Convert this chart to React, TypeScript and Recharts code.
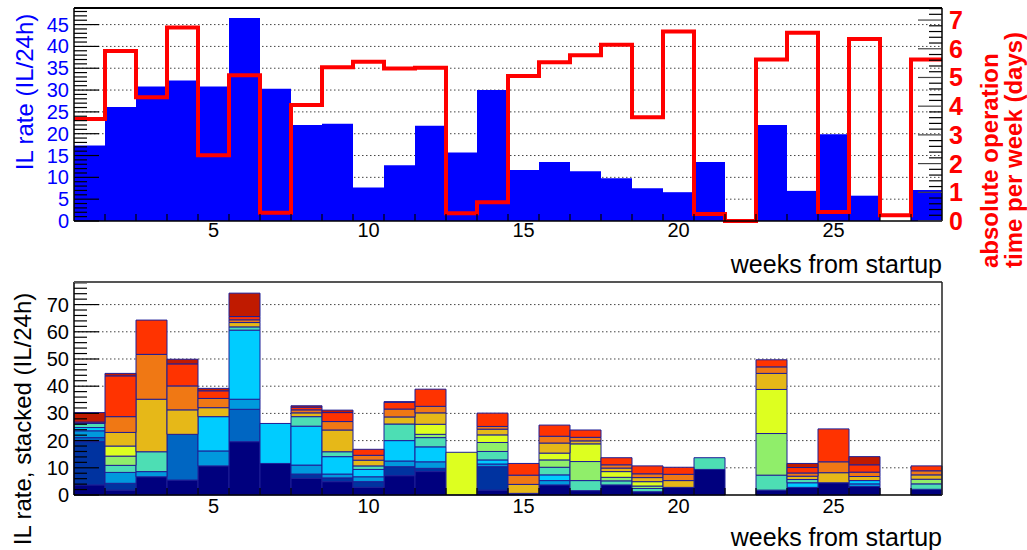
import React from 'react';
import { ComposedChart, Bar, Line, XAxis, YAxis, CartesianGrid } from 'recharts';

// weeks from startup (bin centres)
const WEEKS = [1, 2, 3, 4, 5, 6, 7, 8, 9, 10, 11, 12, 13, 14, 15, 16, 17, 18, 19, 20, 21, 22, 23, 24, 25, 26, 27, 28];

// top panel: IL rate (IL/24h) and absolute operation time per week (days)
const IL_RATE = [17.3, 26.1, 30.8, 32.2, 30.8, 46.5, 30.3, 22.0, 22.3, 7.7, 12.8, 21.8, 15.7, 30.0, 11.7, 13.5, 11.4, 9.8, 7.5, 6.6, 13.5, 0, 22.0, 6.9, 19.9, 5.8, 0, 7.1];
const OP_DAYS = [3.55, 5.92, 4.31, 6.74, 2.29, 5.08, 0.29, 4.04, 5.36, 5.55, 5.31, 5.34, 0.27, 0.65, 5.05, 5.53, 5.77, 6.14, 3.61, 6.6, 0.24, 0, 5.63, 6.56, 0.31, 6.34, 0.2, 5.63];

// bottom panel: stacked contributions, bottom layer first
const S_NAVY = [3.7, 1.8, 6.7, 5.5, 10.7, 19.6, 11.6, 6.1, 4.9, 2.8, 7.1, 8.6, 0, 1.8, 0.6, 3.7, 1.6, 3.7, 1.2, 2.8, 9.4, 0, 1.8, 2.8, 4.5, 3.1, 0, 2.1];
const S_DARKBLUE = [15.9, 2.5, 0, 0, 0, 0, 0, 1.6, 1.4, 2.1, 3.3, 1.2, 0, 8.6, 0, 0, 0, 0, 0, 0, 0, 0, 0, 0, 0, 0, 0, 0];
const S_BLUE = [1.5, 0, 0, 16.8, 0, 11.9, 0, 0, 0, 0, 0, 0, 0, 0, 0, 0, 0, 0, 0, 0, 0, 0, 0, 0, 0, 0, 0, 0];
const S_MEDBLUE = [2.5, 4.0, 1.9, 0, 5.5, 3.7, 0, 3.3, 1.4, 1.8, 2.1, 2.4, 0, 1.0, 0, 1.6, 0, 0, 0, 0, 0, 0, 0, 0, 0, 1.0, 0, 0];
const S_CYAN = [1.2, 0, 0, 0, 12.6, 25.4, 14.7, 14.3, 6.4, 2.7, 7.5, 5.5, 0, 1.5, 0, 2.1, 0, 0, 0, 0, 0, 0, 0, 1.7, 0, 1.2, 0, 0];
const S_AQUA = [1.5, 2.6, 7.3, 0, 0, 1.2, 0, 3.5, 1.8, 1.3, 6.1, 3.4, 0, 3.1, 0, 2.8, 3.7, 1.5, 1.2, 0, 4.3, 0, 5.5, 1.2, 0, 0, 0, 2.0];
const S_GREEN = [0, 3.4, 0, 0, 0, 0, 0, 0, 0, 0, 0, 1.2, 0, 3.3, 0, 2.7, 7.0, 1.3, 0.9, 0, 0, 0, 15.3, 0, 0, 0, 0, 1.7];
const S_LIME = [0, 3.7, 0, 0, 0, 0, 0, 0, 0, 0, 0, 3.7, 15.7, 2.8, 0, 2.5, 6.5, 2.1, 1.6, 0, 0, 0, 16.2, 0, 0, 0, 0, 0];
const S_GOLD = [0, 5.0, 19.3, 9.0, 3.3, 1.6, 0, 1.4, 8.0, 2.1, 2.6, 4.2, 0, 2.1, 3.3, 3.7, 1.1, 1.3, 1.5, 2.5, 0, 0, 5.9, 1.2, 3.7, 1.5, 0, 1.6];
const S_ORANGE = [0, 5.8, 16.5, 8.8, 3.4, 1.0, 0, 1.1, 3.1, 1.8, 2.9, 2.4, 0, 1.0, 3.4, 2.5, 1.3, 1.2, 1.4, 2.3, 0, 0, 2.4, 1.2, 4.0, 1.6, 0, 1.5];
const S_RED = [0.5, 15.0, 12.6, 8.1, 2.8, 1.2, 0, 1.0, 3.3, 2.2, 2.5, 6.3, 0, 4.9, 4.3, 4.1, 2.7, 2.6, 2.9, 2.6, 0, 0, 2.6, 2.0, 12.1, 2.7, 0, 1.8];
const S_DARKRED = [3.5, 0.9, 0, 1.7, 0.9, 8.6, 0, 0.5, 0.9, 0, 0.2, 0, 0, 0, 0, 0, 0, 0, 0, 0, 0, 0, 0, 1.5, 0, 3.0, 0, 0];

// axis ticks
const X_LABEL_TICKS = [5, 10, 15, 20, 25];
const TOP_LEFT_MAJOR = [0, 5, 10, 15, 20, 25, 30, 35, 40, 45];
const TOP_RIGHT_MAJOR = [0, 1, 2, 3, 4, 5, 6, 7];
const BOTTOM_MAJOR = [0, 10, 20, 30, 40, 50, 60, 70];

const TOP_LEFT_MAX = 48.8;
const TOP_RIGHT_MAX = 7.42;
const BOTTOM_MAX = 78.3;

const LAYERS = [
  { key: 's0', values: S_NAVY, color: '#00007e' },
  { key: 's1', values: S_DARKBLUE, color: '#0033a0' },
  { key: 's2', values: S_BLUE, color: '#0066c2' },
  { key: 's3', values: S_MEDBLUE, color: '#0099dd' },
  { key: 's4', values: S_CYAN, color: '#00ccff' },
  { key: 's5', values: S_AQUA, color: '#4ddeb4' },
  { key: 's6', values: S_GREEN, color: '#90ee6a' },
  { key: 's7', values: S_LIME, color: '#ddff20' },
  { key: 's8', values: S_GOLD, color: '#e6b818' },
  { key: 's9', values: S_ORANGE, color: '#f07814' },
  { key: 's10', values: S_RED, color: '#ff3300' },
  { key: 's11', values: S_DARKRED, color: '#c01a00' },
];

const FONT = '"Liberation Sans", Arial, Helvetica, sans-serif';
const BLUE = '#0000ff';
const RED = '#ff0000';

const rateRows = WEEKS.map((w, i) => ({ week: w, x: w, rate: IL_RATE[i] }));
// histogram outline: one point per bin low edge, plus the last high edge
const edgeRows = [...WEEKS.map((w, i) => ({ x: w - 0.5, days: OP_DAYS[i] })), { x: WEEKS[WEEKS.length - 1] + 0.5, days: OP_DAYS[OP_DAYS.length - 1] }];
const stackRows = WEEKS.map((w, i) => {
  const row: Record<string, number> = { week: w, x: w };
  LAYERS.forEach(l => { row[l.key] = l.values[i]; });
  return row;
});

const X_TICKS = [...WEEKS.slice(1).map(w => w - 0.5), ...X_LABEL_TICKS];
const X_DOMAIN = [WEEKS[0] - 0.5, WEEKS[WEEKS.length - 1] + 0.5];

function range(max: number, step: number): number[] {
  const out: number[] = [];
  for (let k = 0; k * step <= max + 1e-9; k++) out.push(Math.round(k * step * 100) / 100);
  return out;
}

const makeXTick = (labelDy: number) => (props: any) => {
  const { x, y, payload } = props;
  const v = payload.value;
  if (Number.isInteger(v)) {
    return (
      <text x={x} y={y + labelDy} textAnchor="middle" fontSize={20} fontFamily={FONT} fill="#000">
        {v}
      </text>
    );
  }
  return <line x1={x} x2={x} y1={y} y2={y - 7} stroke="#000" strokeWidth={1.2} />;
};

const makeLeftTick = (majors: number[], color: string) => (props: any) => {
  const { x, y, payload } = props;
  const major = majors.includes(payload.value);
  return (
    <g>
      <line x1={x} x2={x + (major ? 25 : 13)} y1={y} y2={y} stroke="#000" strokeWidth={1.2} />
      {major && (
        <text x={x - 5} y={y} textAnchor="end" dominantBaseline="central" fontSize={20} fontFamily={FONT} fill={color}>
          {payload.value}
        </text>
      )}
    </g>
  );
};

const makeRightTick = (majors: number[]) => (props: any) => {
  const { x, y, payload } = props;
  const major = majors.includes(payload.value);
  return (
    <g>
      <line x1={x} x2={x - (major ? 24 : 13)} y1={y} y2={y} stroke={major ? '#444' : '#000'} strokeWidth={1.2} />
      {major && (
        <text x={x + 7} y={y} textAnchor="start" dominantBaseline="central" fontSize={25} fontWeight="bold" fontFamily={FONT} fill={RED}>
          {payload.value}
        </text>
      )}
    </g>
  );
};

function TopPanel() {
  return (
    <ComposedChart width={1027} height={250} data={rateRows} margin={{ top: 8, right: 0, bottom: 0, left: 0 }} barCategoryGap={0} barGap={0}>
      <CartesianGrid
        xAxisId="num"
        yAxisId="rate"
        vertical={false}
        horizontalValues={TOP_LEFT_MAJOR.slice(1)}
        stroke="#444"
        strokeDasharray="1.5 2.5"
      />
      <Bar xAxisId="cat" yAxisId="rate" dataKey="rate" fill={BLUE} isAnimationActive={false} />
      <Line
        xAxisId="num"
        yAxisId="days"
        data={edgeRows}
        dataKey="days"
        type="stepAfter"
        stroke={RED}
        strokeWidth={4}
        dot={false}
        isAnimationActive={false}
      />
      <XAxis
        xAxisId="num"
        dataKey="x"
        type="number"
        domain={X_DOMAIN}
        allowDataOverflow
        ticks={X_TICKS}
        interval={0}
        height={29}
        tickSize={0}
        tickMargin={0}
        tick={makeXTick(16)}
        axisLine={{ stroke: '#000', strokeWidth: 1.5 }}
      />
      <XAxis xAxisId="cat" dataKey="week" type="category" height={0} hide />
      <YAxis
        yAxisId="rate"
        type="number"
        domain={[0, TOP_LEFT_MAX]}
        ticks={range(48, 1)}
        interval={0}
        width={74}
        tickSize={0}
        tickMargin={0}
        tick={makeLeftTick(TOP_LEFT_MAJOR, BLUE)}
        axisLine={{ stroke: '#000', strokeWidth: 1.5 }}
      />
      <YAxis
        yAxisId="days"
        orientation="right"
        type="number"
        domain={[0, TOP_RIGHT_MAX]}
        ticks={range(7.4, 0.2)}
        interval={0}
        width={85}
        tickSize={0}
        tickMargin={0}
        tick={makeRightTick(TOP_RIGHT_MAJOR)}
        axisLine={{ stroke: '#000', strokeWidth: 1.5 }}
      />
    </ComposedChart>
  );
}

function BottomPanel() {
  return (
    <ComposedChart width={1027} height={290} data={stackRows} margin={{ top: 22, right: 85, bottom: 0, left: 0 }} barCategoryGap={0} barGap={0}>
      <CartesianGrid
        xAxisId="num"
        yAxisId="stack"
        vertical={false}
        horizontalValues={BOTTOM_MAJOR.slice(1)}
        stroke="#444"
        strokeDasharray="1.5 2.5"
      />
      {LAYERS.map(l => (
        <Bar
          key={l.key}
          xAxisId="cat"
          yAxisId="stack"
          dataKey={l.key}
          stackId="il"
          fill={l.color}
          stroke="#1e1e96"
          strokeWidth={1}
          isAnimationActive={false}
        />
      ))}
      {/* invisible series that binds the numeric week axis to the data */}
      <Line xAxisId="num" yAxisId="stack" dataKey="s0" stroke="none" dot={false} activeDot={false} isAnimationActive={false} />
      <XAxis
        xAxisId="num"
        dataKey="x"
        type="number"
        domain={X_DOMAIN}
        allowDataOverflow
        ticks={X_TICKS}
        interval={0}
        height={55}
        tickSize={0}
        tickMargin={0}
        tick={makeXTick(18)}
        axisLine={{ stroke: '#000', strokeWidth: 1.5 }}
      />
      <XAxis xAxisId="cat" dataKey="week" type="category" height={0} hide />
      <YAxis
        yAxisId="stack"
        type="number"
        domain={[0, BOTTOM_MAX]}
        ticks={range(78, 2)}
        interval={0}
        width={74}
        tickSize={0}
        tickMargin={0}
        tick={makeLeftTick(BOTTOM_MAJOR, '#000')}
        axisLine={{ stroke: '#000', strokeWidth: 1.5 }}
      />
    </ComposedChart>
  );
}

export default function App() {
  return (
    <div style={{ position: 'absolute', left: 0, top: 0, width: 1027, height: 550, background: '#fff', fontFamily: FONT }}>
      <div style={{ position: 'absolute', left: 0, top: 0 }}>
        <TopPanel />
      </div>
      <div style={{ position: 'absolute', left: 0, top: 260 }}>
        <BottomPanel />
      </div>
      <svg width={1027} height={550} style={{ position: 'absolute', left: 0, top: 0, pointerEvents: 'none' }} fontFamily={FONT}>
        {/* pad frames */}
        <line x1={74} x2={942} y1={8} y2={8} stroke="#000" strokeWidth={2} />
        <line x1={74} x2={942} y1={282} y2={282} stroke="#555" strokeWidth={2} />
        <line x1={942} x2={942} y1={282} y2={495} stroke="#222" strokeWidth={1.5} />
        <text x={24} y={92} transform="rotate(-90 24 92)" textAnchor="middle" dominantBaseline="central" fontSize={24} fill={BLUE}>
          IL rate (IL/24h)
        </text>
        <text x={989} y={268} transform="rotate(-90 989 268)" textAnchor="start" dominantBaseline="central" fontSize={24} fontWeight="bold" fill={RED}>
          absolute operation
        </text>
        <text x={1013} y={268} transform="rotate(-90 1013 268)" textAnchor="start" dominantBaseline="central" fontSize={24} fontWeight="bold" fill={RED}>
          time per week (days)
        </text>
        <text x={942} y={273} textAnchor="end" fontSize={25} fill="#000">
          weeks from startup
        </text>
        <text x={22} y={419} transform="rotate(-90 22 419)" textAnchor="middle" dominantBaseline="central" fontSize={24} fill="#000">
          IL rate, stacked (IL/24h)
        </text>
        <text x={942} y={546} textAnchor="end" fontSize={25} fill="#000">
          weeks from startup
        </text>
      </svg>
    </div>
  );
}
